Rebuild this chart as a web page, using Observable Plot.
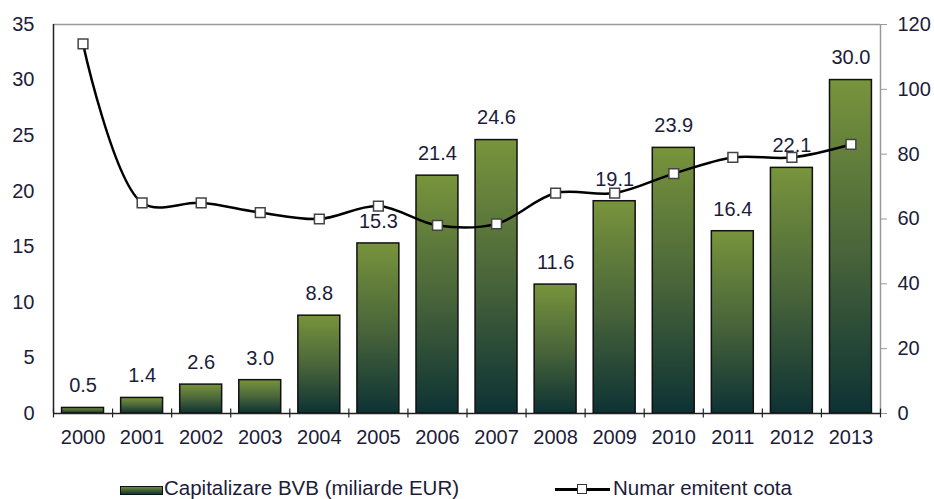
<!DOCTYPE html>
<html>
<head>
<meta charset="utf-8">
<script src="https://cdn.jsdelivr.net/npm/d3@7"></script>
<script src="https://cdn.jsdelivr.net/npm/@observablehq/plot@0.6"></script>
<style>
  html, body { margin: 0; padding: 0; background: #fff; }
  body { width: 934px; height: 499px; overflow: hidden; font-family: "Liberation Sans", Arial, sans-serif; }
  #legend { position: relative; height: 29px; color: #1c1c3a; font-size: 20.5px; }
  #legend .sw { position: absolute; left: 120px; top: 16px; width: 41px; height: 7px; border: 1.5px solid #111; background: linear-gradient(#6f8a38, #0f3535); }
  #legend .t1 { position: absolute; left: 164px; top: 7px; line-height: 22px; white-space: nowrap; }
  #legend .ln { position: absolute; left: 555px; top: 18px; width: 55px; height: 3px; background: #000; }
  #legend .mk { position: absolute; left: 577px; top: 14px; width: 8px; height: 8px; background: #fff; border: 1.5px solid #333; }
  #legend .t2 { position: absolute; left: 613px; top: 7px; line-height: 22px; white-space: nowrap; }
</style>
</head>
<body>
<div id="chart"></div>
<div id="legend">
  <div class="sw"></div><div class="t1">Capitalizare BVB (miliarde EUR)</div>
  <div class="ln"></div><div class="mk"></div><div class="t2">Numar emitent cota</div>
</div>
<script>
const years = [2000, 2001, 2002, 2003, 2004, 2005, 2006, 2007, 2008, 2009, 2010, 2011, 2012, 2013];
const capitalizare = [0.5, 1.4, 2.6, 3.0, 8.8, 15.3, 21.4, 24.6, 11.6, 19.1, 23.9, 16.4, 22.1, 30.0];
const emitenti = [114, 65, 65, 62, 60, 64, 58, 58.5, 68, 68, 74, 79, 79, 83];
const leftTicks = [0, 5, 10, 15, 20, 25, 30, 35];
const rightTicks = [0, 20, 40, 60, 80, 100, 120];

const LEFT_MAX = 35, RIGHT_MAX = 120;
const toLeft = v => v * LEFT_MAX / RIGHT_MAX;

const data = years.map((y, i) => ({year: y, cap: capitalizare[i], n: emitenti[i]}));
const boundaries = [years[0] - 0.5, ...years.map(y => y + 0.5)];
const textColor = "#1c1c3a";
const fs = 20;

const chart = Plot.plot({
  width: 934,
  height: 470,
  marginTop: 24,
  marginBottom: 57,
  marginLeft: 53,
  marginRight: 54,
  style: {fontFamily: "Liberation Sans, Arial, sans-serif", background: "#fff"},
  x: {type: "linear", domain: [years[0] - 0.5, years[years.length - 1] + 0.5]},
  y: {domain: [0, LEFT_MAX]},
  marks: [
    Plot.ruleY([LEFT_MAX], {stroke: "#999", strokeWidth: 1.5}),
    Plot.ruleX([years[years.length - 1] + 0.5], {stroke: "#999", strokeWidth: 1.5}),
    Plot.rectY(data, {x1: d => d.year - 0.355, x2: d => d.year + 0.355, y: "cap", fill: "url(#barGrad)", stroke: "#111", strokeWidth: 1.5}),
    Plot.ruleX([years[0] - 0.5], {stroke: "#222", strokeWidth: 1.5}),
    Plot.ruleY([0], {stroke: "#222", strokeWidth: 1.5}),
    Plot.ruleX(boundaries, {x: d => d, y1: -0.4, y2: 0.4, stroke: "#222", strokeWidth: 1.2}),
    Plot.text(data, {x: "year", y: "cap", text: d => d.cap.toFixed(1), dy: -22, fontSize: fs, fill: textColor}),
    Plot.line(data, {x: "year", y: d => toLeft(d.n), curve: "catmull-rom", stroke: "#000", strokeWidth: 2.5}),
    Plot.dot(data, {x: "year", y: d => toLeft(d.n), symbol: "square", r: 5.5, fill: "#fff", stroke: "#444", strokeWidth: 1.5}),
    Plot.axisY(leftTicks, {anchor: "left", tickSize: 0, tickPadding: 19, fontSize: fs, color: textColor, label: null}),
    Plot.axisY(rightTicks.map(toLeft), {anchor: "right", tickSize: 6, tickPadding: 11, fontSize: fs, stroke: "#999", color: textColor, tickFormat: v => String(Math.round(v * RIGHT_MAX / LEFT_MAX)), label: null}),
    Plot.axisX(years, {anchor: "bottom", tickSize: 0, tickPadding: 16, fontSize: fs, color: textColor, tickFormat: d => String(d), label: null})
  ]
});

const svg = d3.select(chart);
const grad = svg.insert("defs", ":first-child").append("linearGradient")
  .attr("id", "barGrad").attr("x1", 0).attr("y1", 0).attr("x2", 0).attr("y2", 1);
grad.append("stop").attr("offset", "0%").attr("stop-color", "#78943c");
grad.append("stop").attr("offset", "50%").attr("stop-color", "#4a663a");
grad.append("stop").attr("offset", "100%").attr("stop-color", "#0d3234");

document.getElementById("chart").appendChild(chart);
</script>
</body>
</html>
